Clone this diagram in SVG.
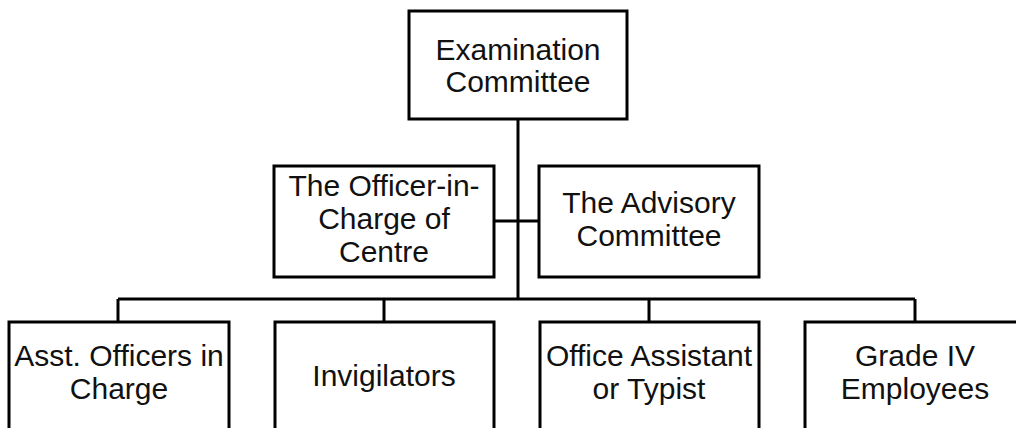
<svg xmlns="http://www.w3.org/2000/svg" width="1016" height="428" viewBox="0 0 1016 428">
  <style>
    .box { fill: #ffffff; stroke: #000000; stroke-width: 3; }
    .link { fill: none; stroke: #000000; stroke-width: 3; }
    .label { font-family: "Liberation Sans", Arial, sans-serif; font-size: 30px; fill: #111111; text-anchor: middle; }
  </style>
  <rect width="1016" height="428" fill="#ffffff"/>

  <g id="connectors">
    <line class="link" x1="518" y1="119" x2="518" y2="299"/>
    <line class="link" x1="494" y1="221" x2="539" y2="221"/>
    <line class="link" x1="118" y1="299" x2="915" y2="299"/>
    <line class="link" x1="118" y1="299" x2="118" y2="322"/>
    <line class="link" x1="384" y1="299" x2="384" y2="322"/>
    <line class="link" x1="649" y1="299" x2="649" y2="322"/>
    <line class="link" x1="915" y1="299" x2="915" y2="322"/>
  </g>

  <g id="examination-committee">
    <rect class="box" x="409" y="11" width="218" height="108"/>
    <text class="label" x="518" y="60">Examination</text>
    <text class="label" x="518" y="92">Committee</text>
  </g>

  <g id="officer-in-charge">
    <rect class="box" x="274" y="166" width="220" height="111"/>
    <text class="label" x="384" y="196">The Officer-in-</text>
    <text class="label" x="384" y="229">Charge of</text>
    <text class="label" x="384" y="262">Centre</text>
  </g>

  <g id="advisory-committee">
    <rect class="box" x="539" y="166" width="220" height="111"/>
    <text class="label" x="649" y="213">The Advisory</text>
    <text class="label" x="649" y="246">Committee</text>
  </g>

  <g id="asst-officers">
    <rect class="box" x="9" y="322" width="220" height="130"/>
    <text class="label" x="119" y="366">Asst. Officers in</text>
    <text class="label" x="119" y="399">Charge</text>
  </g>

  <g id="invigilators">
    <rect class="box" x="275" y="322" width="219" height="130"/>
    <text class="label" x="384" y="386">Invigilators</text>
  </g>

  <g id="office-assistant">
    <rect class="box" x="540" y="322" width="219" height="130"/>
    <text class="label" x="649" y="366">Office Assistant</text>
    <text class="label" x="649" y="399">or Typist</text>
  </g>

  <g id="grade-iv">
    <rect class="box" x="805" y="322" width="220" height="130"/>
    <text class="label" x="915" y="366">Grade IV</text>
    <text class="label" x="915" y="399">Employees</text>
  </g>
</svg>
